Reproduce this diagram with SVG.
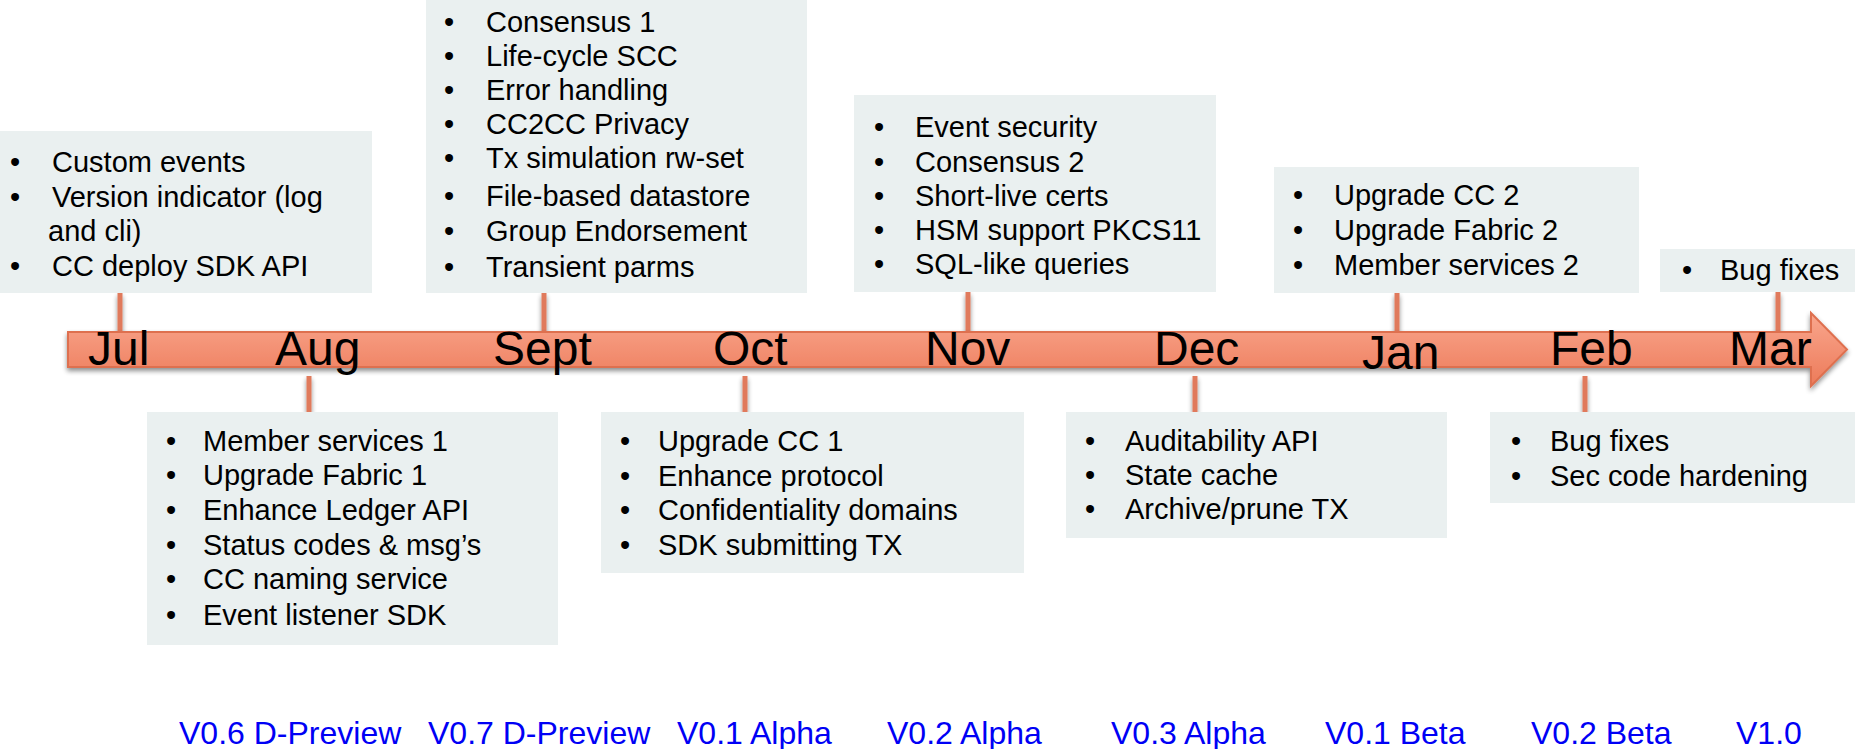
<svg xmlns="http://www.w3.org/2000/svg" width="1855" height="749" viewBox="0 0 1855 749">
  <defs>
    <linearGradient id="barFill" x1="0" y1="0" x2="0" y2="1">
      <stop offset="0" stop-color="#F9A68D"/>
      <stop offset="1" stop-color="#ED7B5A"/>
    </linearGradient>
    <filter id="shadow" x="-5%" y="-30%" width="110%" height="180%">
      <feGaussianBlur in="SourceAlpha" stdDeviation="2.5"/>
      <feOffset dx="0" dy="3" result="b"/>
      <feComponentTransfer><feFuncA type="linear" slope="0.45"/></feComponentTransfer>
      <feMerge><feMergeNode/><feMergeNode in="SourceGraphic"/></feMerge>
    </filter>
    <style>
      .box { fill: #EAF0F0; }
      .item { font-family: "Liberation Sans", Arial, sans-serif; font-size: 29px; fill: #000; }
      .dot { font-family: "Liberation Sans", Arial, sans-serif; font-size: 29px; fill: #000; text-anchor: middle; }
      .month { font-family: "Liberation Sans", Arial, sans-serif; font-size: 48px; fill: #000; }
      .release { font-family: "Liberation Sans", Arial, sans-serif; font-size: 32px; fill: #0000F5; }
      .tick { stroke: #E07A5C; stroke-width: 5; fill: none; }
    </style>
  </defs>

  <rect width="1855" height="749" fill="#FFFFFF"/>

  <!-- connectors: month ticks linking boxes to the timeline -->
  <g id="connectors" filter="url(#shadow)">
    <line class="tick" x1="120" y1="293" x2="120" y2="332"/>
    <line class="tick" x1="309" y1="376" x2="309" y2="412"/>
    <line class="tick" x1="544" y1="293" x2="544" y2="332"/>
    <line class="tick" x1="745" y1="376" x2="745" y2="412"/>
    <line class="tick" x1="968" y1="292" x2="968" y2="332"/>
    <line class="tick" x1="1195" y1="376" x2="1195" y2="412"/>
    <line class="tick" x1="1397" y1="293" x2="1397" y2="332"/>
    <line class="tick" x1="1585" y1="376" x2="1585" y2="412"/>
    <line class="tick" x1="1778" y1="292" x2="1778" y2="332"/>
  </g>

  <!-- timeline arrow -->
  <g id="timeline">
    <path d="M68,332 H1811 V313 L1847,349.5 L1811,386 V367 H68 Z" fill="url(#barFill)" stroke="#DE6F4F" stroke-width="2" filter="url(#shadow)"/>
    <text class="month" x="88" y="365">Jul</text>
    <text class="month" x="275" y="365">Aug</text>
    <text class="month" x="493" y="365">Sept</text>
    <text class="month" x="713" y="365">Oct</text>
    <text class="month" x="925" y="365">Nov</text>
    <text class="month" x="1154" y="365">Dec</text>
    <text class="month" x="1362" y="369">Jan</text>
    <text class="month" x="1550" y="365">Feb</text>
    <text class="month" x="1729" y="365">Mar</text>
  </g>

  <!-- July -->
  <g id="jul">
    <rect class="box" x="0" y="131" width="372" height="162"/>
    <text class="dot" x="15" y="172">•</text><text class="item" x="52" y="172">Custom events</text>
    <text class="dot" x="15" y="207">•</text><text class="item" x="52" y="207">Version indicator (log</text>
    <text class="item" x="48" y="241">and cli)</text>
    <text class="dot" x="15" y="276">•</text><text class="item" x="52" y="276">CC deploy SDK API</text>
  </g>

  <!-- August -->
  <g id="aug">
    <rect class="box" x="147" y="412" width="411" height="233"/>
    <text class="dot" x="171" y="451">•</text><text class="item" x="203" y="451">Member services 1</text>
    <text class="dot" x="171" y="485">•</text><text class="item" x="203" y="485">Upgrade Fabric 1</text>
    <text class="dot" x="171" y="520">•</text><text class="item" x="203" y="520">Enhance Ledger API</text>
    <text class="dot" x="171" y="555">•</text><text class="item" x="203" y="555">Status codes &amp; msg’s</text>
    <text class="dot" x="171" y="589">•</text><text class="item" x="203" y="589">CC naming service</text>
    <text class="dot" x="171" y="625">•</text><text class="item" x="203" y="625">Event listener SDK</text>
  </g>

  <!-- September -->
  <g id="sept">
    <rect class="box" x="426" y="0" width="381" height="293"/>
    <text class="dot" x="449" y="32">•</text><text class="item" x="486" y="32">Consensus 1</text>
    <text class="dot" x="449" y="66">•</text><text class="item" x="486" y="66">Life-cycle SCC</text>
    <text class="dot" x="449" y="100">•</text><text class="item" x="486" y="100">Error handling</text>
    <text class="dot" x="449" y="134">•</text><text class="item" x="486" y="134">CC2CC Privacy</text>
    <text class="dot" x="449" y="168">•</text><text class="item" x="486" y="168">Tx simulation rw-set</text>
    <text class="dot" x="449" y="206">•</text><text class="item" x="486" y="206">File-based datastore</text>
    <text class="dot" x="449" y="241">•</text><text class="item" x="486" y="241">Group Endorsement</text>
    <text class="dot" x="449" y="277">•</text><text class="item" x="486" y="277">Transient parms</text>
  </g>

  <!-- October -->
  <g id="oct">
    <rect class="box" x="601" y="412" width="423" height="161"/>
    <text class="dot" x="625" y="451">•</text><text class="item" x="658" y="451">Upgrade CC 1</text>
    <text class="dot" x="625" y="486">•</text><text class="item" x="658" y="486">Enhance protocol</text>
    <text class="dot" x="625" y="520">•</text><text class="item" x="658" y="520">Confidentiality domains</text>
    <text class="dot" x="625" y="555">•</text><text class="item" x="658" y="555">SDK submitting TX</text>
  </g>

  <!-- November -->
  <g id="nov">
    <rect class="box" x="854" y="95" width="362" height="197"/>
    <text class="dot" x="879" y="137">•</text><text class="item" x="915" y="137">Event security</text>
    <text class="dot" x="879" y="172">•</text><text class="item" x="915" y="172">Consensus 2</text>
    <text class="dot" x="879" y="206">•</text><text class="item" x="915" y="206">Short-live certs</text>
    <text class="dot" x="879" y="240">•</text><text class="item" x="915" y="240">HSM support PKCS11</text>
    <text class="dot" x="879" y="274">•</text><text class="item" x="915" y="274">SQL-like queries</text>
  </g>

  <!-- December -->
  <g id="dec">
    <rect class="box" x="1066" y="412" width="381" height="126"/>
    <text class="dot" x="1090" y="451">•</text><text class="item" x="1125" y="451">Auditability API</text>
    <text class="dot" x="1090" y="485">•</text><text class="item" x="1125" y="485">State cache</text>
    <text class="dot" x="1090" y="519">•</text><text class="item" x="1125" y="519">Archive/prune TX</text>
  </g>

  <!-- January -->
  <g id="jan">
    <rect class="box" x="1274" y="167" width="365" height="126"/>
    <text class="dot" x="1298" y="205">•</text><text class="item" x="1334" y="205">Upgrade CC 2</text>
    <text class="dot" x="1298" y="240">•</text><text class="item" x="1334" y="240">Upgrade Fabric 2</text>
    <text class="dot" x="1298" y="275">•</text><text class="item" x="1334" y="275">Member services 2</text>
  </g>

  <!-- February -->
  <g id="feb">
    <rect class="box" x="1490" y="412" width="365" height="91"/>
    <text class="dot" x="1516" y="451">•</text><text class="item" x="1550" y="451">Bug fixes</text>
    <text class="dot" x="1516" y="486">•</text><text class="item" x="1550" y="486">Sec code hardening</text>
  </g>

  <!-- March -->
  <g id="mar">
    <rect class="box" x="1660" y="249" width="195" height="43"/>
    <text class="dot" x="1687" y="280">•</text><text class="item" x="1720" y="280">Bug fixes</text>
  </g>

  <!-- release names -->
  <g id="releases">
    <text class="release" x="179" y="744">V0.6 D-Preview</text>
    <text class="release" x="428" y="744">V0.7 D-Preview</text>
    <text class="release" x="677" y="744">V0.1 Alpha</text>
    <text class="release" x="887" y="744">V0.2 Alpha</text>
    <text class="release" x="1111" y="744">V0.3 Alpha</text>
    <text class="release" x="1325" y="744">V0.1 Beta</text>
    <text class="release" x="1531" y="744">V0.2 Beta</text>
    <text class="release" x="1736" y="744">V1.0</text>
  </g>
</svg>
